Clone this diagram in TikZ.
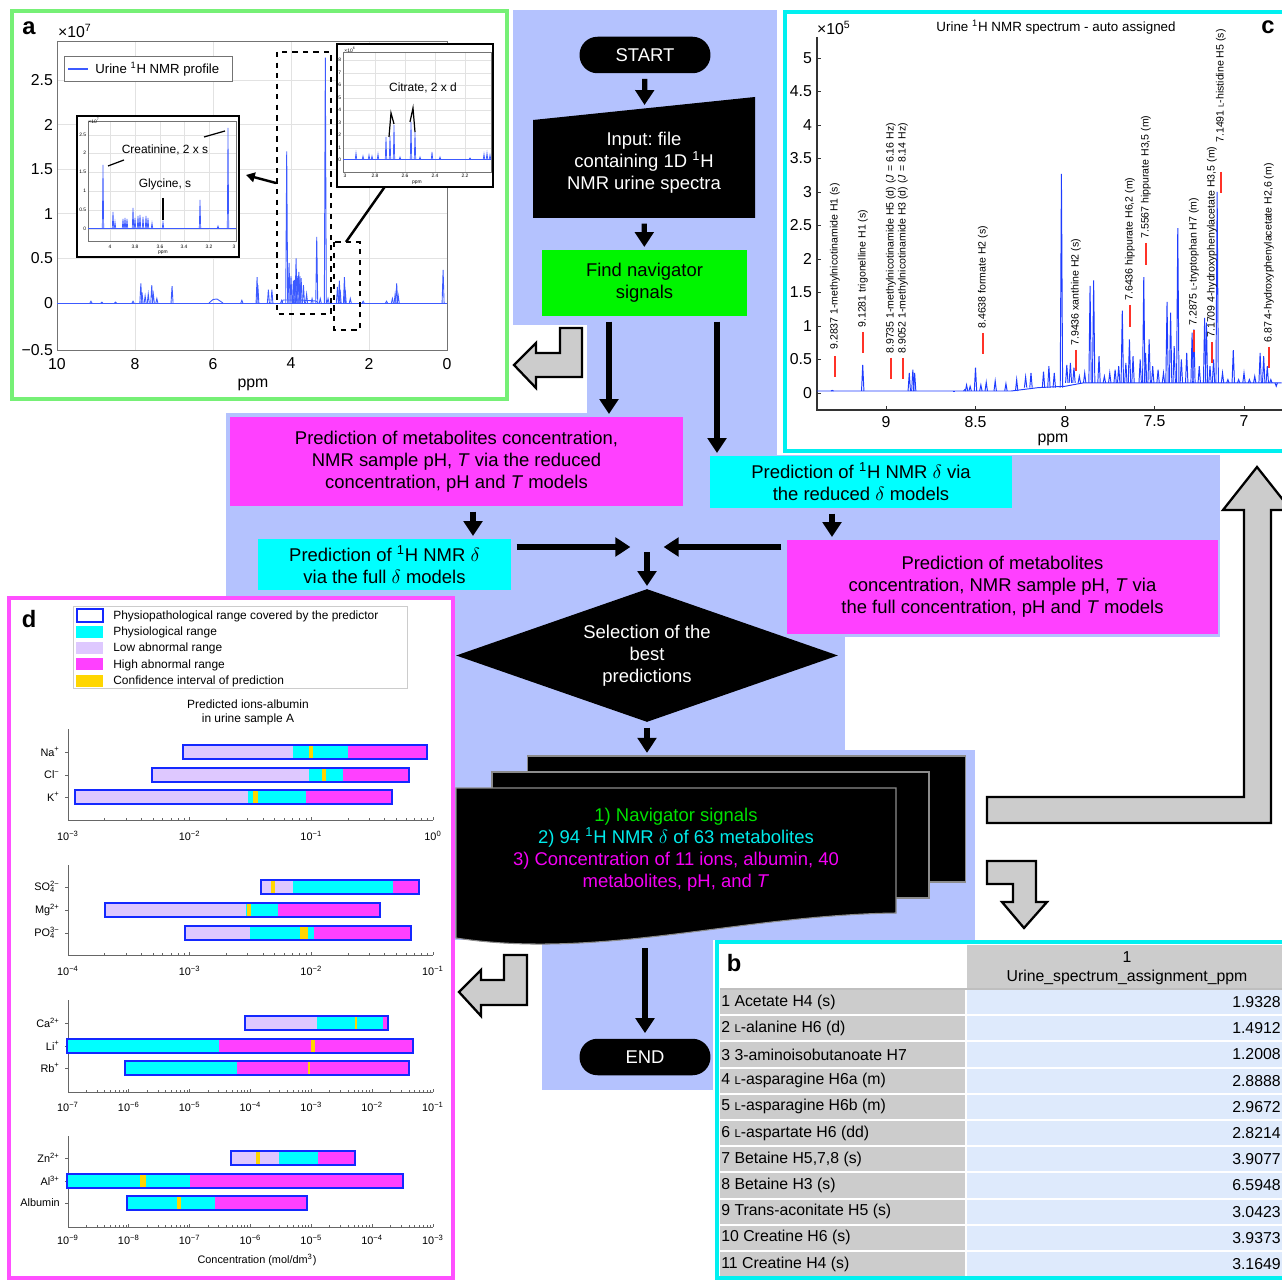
\documentclass[tikz,border=0pt]{standalone}
\usepackage{fontspec}
\setmainfont{Liberation Sans}
\usetikzlibrary{arrows.meta,shapes.geometric}
\frenchspacing

\definecolor{lavender}{RGB}{180,194,254}
\definecolor{boxmag}{RGB}{255,64,255}
\definecolor{boxcyan}{RGB}{0,255,255}
\definecolor{boxgreen}{RGB}{0,245,0}
\definecolor{framegreen}{RGB}{118,240,118}
\definecolor{framecyan}{RGB}{0,240,240}
\definecolor{framemag}{RGB}{255,80,255}
\definecolor{arrowgray}{RGB}{204,204,204}
\definecolor{specblue}{RGB}{60,90,255}
\definecolor{speccblue}{RGB}{30,60,255}
\definecolor{markred}{RGB}{255,50,40}
\definecolor{gridgray}{RGB}{226,226,226}
\definecolor{lowab}{RGB}{222,200,255}
\definecolor{confy}{RGB}{255,214,0}
\definecolor{rangeblue}{RGB}{20,40,255}
\definecolor{cellgray}{RGB}{204,204,204}
\definecolor{cellblue}{RGB}{222,234,252}
\definecolor{txtgreen}{RGB}{0,225,0}
\definecolor{txtcyan}{RGB}{0,235,235}
\definecolor{txtmag}{RGB}{245,0,245}

\newcommand{\scL}{\scalebox{0.72}{L}}
\newcommand{\dec}[1]{10\textsuperscript{#1}}
\newcommand{\rangeseg}[4]{\fill[#1] (#3,#2) rectangle (#4,{#2+14});}
\newcommand{\rangeframe}[3]{\draw[rangebox] (#2,#1) rectangle (#3,{#1+14});}

\begin{document}
\begin{tikzpicture}[x=0.02cm, y=-0.02cm,
  flowtext/.style={font=\fontsize{10.5}{12.5}\selectfont, align=center, inner sep=0pt},
  terminal/.style={flowtext, fill=black, text=white, rounded corners=0.36cm,
    minimum width=2.62cm, minimum height=0.73cm},
  flowarrow/.style={line width=3pt, -{Triangle[length=8.5pt,width=10.5pt]},
    shorten <=3pt, shorten >=1.5pt},
  blockarrow/.style={fill=arrowgray, draw=black, line width=1.3pt, line join=miter},
  panellabel/.style={font=\bfseries\fontsize{13.5}{14}\selectfont, inner sep=0pt},
  gridline/.style={draw=gridgray, line width=0.4pt},
  axisline/.style={draw=black!55, line width=0.5pt},
  ticka/.style={font=\fontsize{9}{10}\selectfont, inner sep=1pt},
  tinyt/.style={font=\fontsize{2.8}{3}\selectfont, inner sep=0.3pt},
  peaklabel/.style={font=\fontsize{6}{7}\selectfont, rotate=90, anchor=west, inner sep=0pt},
  tickd/.style={font=\fontsize{6.2}{7}\selectfont, inner sep=0.5pt},
  legendd/.style={font=\fontsize{6.8}{8}\selectfont, anchor=west, inner sep=0pt},
  rangebox/.style={draw=rangeblue, line width=1.1pt},
  tabletext/.style={font=\fontsize{9}{11}\selectfont, inner sep=0pt}]

\useasboundingbox (0,0) rectangle (1282,1280);

% lavender background of the flow chart
\fill[lavender] (513,10) rectangle (777,325);
\fill[lavender] (587,325) rectangle (777,413);
\fill[lavender] (226,413) rectangle (777,455);
\fill[lavender] (226,455) rectangle (1220,597);
\fill[lavender] (455,597) rectangle (1220,637);
\fill[lavender] (455,637) rectangle (845,750);
\fill[lavender] (451,750) rectangle (975,940);
\fill[lavender] (542,940) rectangle (713,1090);

% ================= panel a =================
\draw[framegreen, line width=2.2pt] (12,11) rectangle (507,399);
\node[panellabel] at (29,28) {a};
\foreach \p in {2,4,6,8}
  \draw[gridline] ({447-39*\p},41) -- ({447-39*\p},350);
\foreach \h in {0,0.5,1,1.5,2,2.5}
  \draw[gridline] (57,{303-89.2*\h}) -- (447,{303-89.2*\h});
\draw[axisline] (57,41) rectangle (447,350);
\foreach \h/\t in {-0.527/−0.5,0/0,0.5/0.5,1/1,1.5/1.5,2/2,2.5/2.5}
  \node[ticka, anchor=east] at (55,{303-89.2*\h}) {\t};
\foreach \p in {10,8,6,4,2,0}
  \node[ticka, anchor=north] at ({447-39*\p},356) {\p};
\node[ticka] at (253,385) {ppm};
\node[ticka, anchor=west] at (56,31) {×10\textsuperscript{7}};

% legend
\draw[black!55, fill=white] (64,56) rectangle (232,81);
\draw[specblue, line width=0.6pt] (68,69) -- (88,69);
\node[font=\fontsize{7.5}{8}\selectfont, anchor=west, inner sep=0pt] at (95,69) {Urine \textsuperscript{1}H NMR profile};

% spectrum
\draw[specblue, line width=0.5pt] (57,303) -- (447,303);
\draw[specblue, line width=0.5pt] (282,303) -- (283,300) -- (300,300) -- (316,301) -- (318,303);
\draw[specblue, line width=0.5pt] (209,303) -- (213,299.5) -- (217,299) -- (223,303);
\foreach \p/\h in {9.13/0.02,8.85/0.01,8.5/0.01,8.05/0.02,7.85/0.22,7.82/0.12,7.74/0.08,
    7.66/0.1,7.57/0.2,7.53/0.1,7.44/0.05,7.05/0.19,5.26/0.03,4.87/0.29,4.85/0.2,
    4.58/0.15,4.49/0.15,4.24/0.03,4.11/1.7,4.05/0.45,4.0/0.3,3.94/0.25,3.91/0.26,
    3.87/0.5,3.84/0.3,3.8/0.35,3.77/0.3,3.74/0.28,3.68/0.2,3.6/0.1,3.46/0.05,
    3.34/0.74,3.25/0.05,3.12/2.75,3.05/0.05,2.81/0.18,2.76/0.25,2.74/0.15,
    2.63/0.29,2.61/0.15,2.48/0.05,2.15/0.02,1.55/0.02,1.4/0.05,1.33/0.1,
    1.29/0.22,1.25/0.08,0.1/0.37}
  \draw[specblue, line width=0.5pt] ({446-39*\p},303) -- ({447-39*\p},{303-89.2*\h}) -- ({448-39*\p},303);

% zoomed regions
\draw[dashed, line width=0.9pt] (277,52) rectangle (331,314);
\draw[dashed, line width=0.9pt] (334,242) rectangle (360,330);
\draw[line width=1.4pt, -{Triangle[length=5pt,width=5.5pt]}] (276,183) -- (246,175);
\draw[line width=1.4pt, -{Triangle[length=5pt,width=5.5pt]}] (346,242) -- (398,168);

% inset: creatinine and glycine
\draw[line width=1pt, fill=white] (77,116) rectangle (239,257);
\foreach \y in {135,153,172,191,210,229}
  \draw[gridline, line width=0.2pt] (88,\y) -- (236,\y);
\foreach \x in {110,135,160,184,209}
  \draw[gridline, line width=0.2pt] (\x,121) -- (\x,241);
\draw[axisline, line width=0.3pt] (88,121) rectangle (236,241);
\foreach \y/\t in {135/2.5,153/2,172/1.5,191/1,210/0.5,229/0}
  \node[tinyt, anchor=east] at (87,\y) {\t};
\foreach \x/\t in {110/4,135/3.8,160/3.6,184/3.4,209/3.2,234/3}
  \node[tinyt] at (\x,247) {\t};
\node[tinyt] at (163,253) {ppm};
\node[tinyt] at (94,121) {×10\textsuperscript{7}};
\draw[specblue, line width=0.4pt] (88,228) -- (236,228);
\foreach \x/\y in {103/165,113/212,115/222,123/219,125/218,127/219,133/208,135/218,
    138/216,140/215,143/217,146/216,148/218,152/223,163/222,200/200,218/226,228/128}
  \draw[specblue, line width=0.4pt] ({\x-0.7},228) -- (\x,\y) -- ({\x+0.7},228);
\node[font=\fontsize{6.8}{8}\selectfont, inner sep=0pt] at (165,150) {Creatinine, 2 x s};
\node[font=\fontsize{6.8}{8}\selectfont, inner sep=0pt] at (165,184) {Glycine, s};
\draw[line width=0.7pt] (108,166) -- (124,160);
\draw[line width=0.7pt] (204,137) -- (225,131);
\draw[line width=0.7pt] (163,198) -- (163,220);

% inset: citrate
\draw[line width=1pt, fill=white] (337,44) rectangle (493,187);
\foreach \y in {60,73,85,98,110,123,135,148}
  \draw[gridline, line width=0.2pt] (343,\y) -- (491,\y);
\foreach \x in {375,405,435,465}
  \draw[gridline, line width=0.2pt] (\x,52) -- (\x,172);
\draw[axisline, line width=0.3pt] (343,52) rectangle (491,172);
\foreach \y/\t in {60/8,73/7,85/6,98/5,110/4,123/3,135/2,148/1,160/0}
  \node[tinyt, anchor=east] at (342,\y) {\t};
\foreach \x/\t in {345/3,375/2.8,405/2.6,435/2.4,465/2.2}
  \node[tinyt] at (\x,176) {\t};
\node[tinyt] at (417,183) {ppm};
\node[tinyt] at (350,50) {×10\textsuperscript{6}};
\draw[specblue, line width=0.4pt] (343,159) -- (491,159);
\foreach \x/\y in {356/153,363/156,369/155,372/156,378/154,386/137,390/136,394/125,
    400/157,411/122,415/132,420/157,432/152,440/157,470/158,484/154,487/153,490/155}
  \draw[specblue, line width=0.4pt] ({\x-0.7},159) -- (\x,\y) -- ({\x+0.7},159);
\node[font=\fontsize{6.8}{8}\selectfont, inner sep=0pt] at (423,88) {Citrate, 2 x d};
\draw[line width=0.7pt] (389,137) -- (391,113) -- (394,124);
\draw[line width=0.7pt] (410,122) -- (413,108) -- (415,132);

% ================= panel c =================
\draw[framecyan, line width=2.2pt] (785,12) rectangle (1295,451);
\node[panellabel] at (1268,27) {c};
\node[font=\fontsize{7.6}{8}\selectfont, inner sep=0pt] at (1056,27) {Urine \textsuperscript{1}H NMR spectrum - auto assigned};
\node[ticka, anchor=west] at (815,28) {×10\textsuperscript{5}};
\draw[black!80, line width=0.6pt] (817,37) -- (817,410) -- (1290,410);
\foreach \h in {0,0.5,1,1.5,2,2.5,3,3.5,4,4.5,5} {
  \draw[black!80, line width=0.5pt] (817,{393-67*\h}) -- ++(4,0);
  \node[ticka, anchor=east] at (814,{393-67*\h}) {\h};
}
\foreach \p in {9,8.5,8,7.5,7} {
  \draw[black!80, line width=0.5pt] ({1065-179*(\p-8)},410) -- ++(0,-4);
  \node[ticka, anchor=north] at ({1065-179*(\p-8)},414) {\p};
}
\node[ticka] at (1053,440) {ppm};

% spectrum
\draw[speccblue, line width=0.55pt] (817,391)
  \foreach \p/\h in {9.3/0.03,8.3/0.03,8.15/0.08,8.0/0.1,7.9/0.15,7.0/0.15,6.79/0.15}
  { -- ({1065-179*(\p-8)},{393-67*\h}) };
\foreach \p/\h in {9.30/0.04,9.13/0.42,8.87/0.3,8.85/0.35,8.84/0.3,8.62/0.03,8.56/0.05,
    8.55/0.12,8.53/0.1,8.50/0.38,8.47/0.12,8.44/0.16,8.39/0.18,8.33/0.14,
    8.27/0.2,8.22/0.24,8.19/0.3,8.12/0.32,8.09/0.4,8.06/0.3,
    8.02/3.27,7.99/0.42,7.97/0.45,7.95/0.38,7.92/0.25,7.89/0.3,7.86/1.6,7.84/1.68,
    7.81/0.55,7.78/0.25,7.75/0.3,7.72/0.35,7.70/0.4,7.68/1.23,7.66/0.45,7.64/0.8,
    7.62/0.55,7.58/0.5,7.56/1.73,7.55/0.6,7.53/0.8,7.51/0.4,7.48/0.35,7.45/0.3,
    7.43/1.36,7.41/1.2,7.39/0.7,7.37/2.46,7.35/0.5,7.32/0.6,7.29/0.9,7.28/0.95,
    7.25/0.4,7.22/1.12,7.21/1.05,7.19/0.4,7.17/0.5,7.15/3.0,7.12/0.3,7.09/0.2,
    7.06/0.64,7.03/0.2,7.0/0.3,6.97/0.2,6.94/0.25,6.91/0.6,6.89/0.55,6.87/0.4,
    6.85/0.2,6.82/0.1} {
  \pgfmathsetmacro\b{(\p>8.25) ? 0.03 : ((\p>8.0) ? 0.08 : 0.15)}
  \draw[speccblue, line width=0.55pt] ({1063.8-179*(\p-8)},{393-67*\b})
    -- ({1065-179*(\p-8)},{393-67*\h}) -- ({1066.2-179*(\p-8)},{393-67*\b});
}

% assigned peaks
\foreach \x/\ya/\yb/\yl/\t in {
    835/356/377/350/{9.2837 1-methylnicotinamide H1 (s)},
    863/332/353/328/{9.1281 trigonelline H1 (s)},
    891/358/379/354/{8.9735 1-methylnicotinamide H5 (d) (\textit{J} = 6.16 Hz)},
    903/358/379/354/{8.9052 1-methylnicotinamide H3 (d) (\textit{J} = 8.14 Hz)},
    983/333/354/329/{8.4638 formate H2 (s)},
    1076/350/371/346/{7.9436 xanthine H2 (s)},
    1130/305/327/301/{7.6436 hippurate H6,2 (m)},
    1146/243/265/239/{7.5567 hippurate H3,5 (m)},
    1194/330/352/326/{7.2875 \scL-tryptophan H7 (m)},
    1212/342/363/338/{7.1709 4-hydroxyphenylacetate H3,5 (m)},
    1221/172/193/143/{7.1491 \scL-histidine H5 (s)},
    1269/347/368/343/{6.87 4-hydroxyphenylacetate H2,6 (m)}} {
  \draw[markred, line width=1.1pt] (\x,\ya) -- (\x,\yb);
  \node[peaklabel] at (\x,\yl) {\t};
}

% ================= panel d =================
\draw[framemag, line width=2.2pt] (9,598) rectangle (453,1278);
\node[panellabel] at (29,619) {d};
\draw[black!20, fill=white] (73,606) rectangle (407,688);
\draw[rangebox] (77,609) rectangle (103,622);
\fill[boxcyan] (76,626) rectangle (103,638);
\fill[lowab] (76,642) rectangle (103,654);
\fill[boxmag] (76,658) rectangle (103,670);
\fill[confy] (76,675) rectangle (103,687);
\node[legendd] at (113,616) {Physiopathological range covered by the predictor};
\node[legendd] at (113,632) {Physiological range};
\node[legendd] at (113,648) {Low abnormal range};
\node[legendd] at (113,665) {High abnormal range};
\node[legendd] at (113,681) {Confidence interval of prediction};
\node[font=\fontsize{6.8}{8}\selectfont, align=center, inner sep=0pt] at (248,712)
  {Predicted ions-albumin\\in urine sample A};

% axes with log ticks
\foreach \top/\base/\n in {729/820/3,865/955/3,1000/1092/6,1136/1227/6} {
  \draw[black!60, line width=0.5pt] (68,\top) -- (68,\base) -- (433,\base);
  \pgfmathsetmacro\dw{365/\n}
  \foreach \k in {0,...,\n}
    \draw[black!60, line width=0.5pt] ({68+\dw*\k},\base) -- ++(0,-3.5);
  \foreach \k in {1,...,\n}
    \foreach \m in {2,...,9}
      \draw[black!60, line width=0.3pt] ({68+\dw*(\k-1+log10(\m))},\base) -- ++(0,-2);
}
\foreach \x/\e in {68/−3,189.7/−2,311.3/−1,433/0}
  \node[tickd] at (\x,836) {\dec{\e}};
\foreach \x/\e in {68/−4,189.7/−3,311.3/−2,433/−1}
  \node[tickd] at (\x,971) {\dec{\e}};
\foreach \x/\e in {68/−7,128.8/−6,189.7/−5,250.5/−4,311.3/−3,372.2/−2,433/−1}
  \node[tickd] at (\x,1107) {\dec{\e}};
\foreach \x/\e in {68/−9,128.8/−8,189.7/−7,250.5/−6,311.3/−5,372.2/−4,433/−3}
  \node[tickd] at (\x,1240) {\dec{\e}};
\node[tickd] at (257,1260) {Concentration (mol/dm\textsuperscript{3})};

% ion labels
\foreach \y/\t in {752/Na\textsuperscript{+},775/Cl\textsuperscript{−},797/K\textsuperscript{+},
    887/{SO\rlap{\textsubscript{4}}\textsuperscript{2−}},910/Mg\textsuperscript{2+},
    933/{PO\rlap{\textsubscript{4}}\textsuperscript{3−}},1023/Ca\textsuperscript{2+},
    1046/Li\textsuperscript{+},1068/Rb\textsuperscript{+},1158/Zn\textsuperscript{2+},
    1181/Al\textsuperscript{3+},1203/Albumin} {
  \draw[black!60, line width=0.4pt] (65,\y) -- (68,\y);
  \node[tickd, anchor=east] at (61,\y) {\t};
}

% ranges
\rangeseg{lowab}{745}{183}{293}\rangeseg{boxcyan}{745}{293}{348}\rangeseg{boxmag}{745}{348}{427}
\rangeseg{confy}{745}{309}{313}\rangeframe{745}{183}{427}
\rangeseg{lowab}{768}{152}{309}\rangeseg{boxcyan}{768}{309}{343}\rangeseg{boxmag}{768}{343}{409}
\rangeseg{confy}{768}{322}{326}\rangeframe{768}{152}{409}
\rangeseg{lowab}{790}{75}{248}\rangeseg{boxcyan}{790}{248}{306}\rangeseg{boxmag}{790}{306}{392}
\rangeseg{confy}{790}{253}{258}\rangeframe{790}{75}{392}
\rangeseg{lowab}{880}{261}{293}\rangeseg{boxcyan}{880}{293}{393}\rangeseg{boxmag}{880}{393}{419}
\rangeseg{confy}{880}{271}{275}\rangeframe{880}{261}{419}
\rangeseg{lowab}{903}{105}{246}\rangeseg{boxcyan}{903}{246}{278}\rangeseg{boxmag}{903}{278}{380}
\rangeseg{confy}{903}{247}{251}\rangeframe{903}{105}{380}
\rangeseg{lowab}{926}{185}{250}\rangeseg{boxcyan}{926}{250}{314}\rangeseg{boxmag}{926}{314}{411}
\rangeseg{confy}{926}{300}{308}\rangeframe{926}{185}{411}
\rangeseg{lowab}{1016}{245}{317}\rangeseg{boxcyan}{1016}{317}{383}\rangeseg{boxmag}{1016}{383}{388}
\rangeseg{confy}{1016}{355}{357}\rangeframe{1016}{245}{388}
\rangeseg{boxcyan}{1039}{67}{219}\rangeseg{boxmag}{1039}{219}{413}
\rangeseg{confy}{1039}{311}{315}\rangeframe{1039}{67}{413}
\rangeseg{boxcyan}{1061}{125}{237}\rangeseg{boxmag}{1061}{237}{409}
\rangeseg{confy}{1061}{308}{310}\rangeframe{1061}{125}{409}
\rangeseg{lowab}{1151}{231}{279}\rangeseg{boxcyan}{1151}{279}{318}\rangeseg{boxmag}{1151}{318}{355}
\rangeseg{confy}{1151}{256}{260}\rangeframe{1151}{231}{355}
\rangeseg{boxcyan}{1174}{67}{190}\rangeseg{boxmag}{1174}{190}{403}
\rangeseg{confy}{1174}{140}{146}\rangeframe{1174}{67}{403}
\rangeseg{boxcyan}{1196}{127}{215}\rangeseg{boxmag}{1196}{215}{307}
\rangeseg{confy}{1196}{177}{181}\rangeframe{1196}{127}{307}

% ================= panel b =================
\fill[white] (720,945) rectangle (965,988);
\fill[cellgray] (967,945) rectangle (1282,988);
\draw[black!25, line width=0.6pt] (720,989) -- (1282,989);
\node[panellabel] at (734,963) {b};
\node[tabletext] at (1127,957) {1};
\node[tabletext] at (1127,977) {Urine\_spectrum\_assignment\_ppm};
\foreach \i/\lab/\val in {1/{1 Acetate H4 (s)}/1.9328, 2/{2 \scL-alanine H6 (d)}/1.4912,
    3/{3 3-aminoisobutanoate H7}/1.2008, 4/{4 \scL-asparagine H6a (m)}/2.8888,
    5/{5 \scL-asparagine H6b (m)}/2.9672, 6/{6 \scL-aspartate H6 (dd)}/2.8214,
    7/{7 Betaine H5,7,8 (s)}/3.9077, 8/{8 Betaine H3 (s)}/6.5948,
    9/{9 Trans-aconitate H5 (s)}/3.0423, 10/{10 Creatine H6 (s)}/3.9373,
    11/{11 Creatine H4 (s)}/3.1649} {
  \fill[cellgray] (720,{990+26.2*(\i-1)}) rectangle (965,{988+26.2*\i});
  \fill[cellblue] (967,{990+26.2*(\i-1)}) rectangle (1282,{988+26.2*\i});
  \node[tabletext, anchor=west] at (721,{989+26.2*(\i-0.5)}) {\lab};
  \node[tabletext, anchor=east] at (1281,{989+26.2*(\i-0.5)}) {\val};
}
\draw[framecyan, line width=2.2pt] (717,942) rectangle (1295,1278);

% ================= flow chart =================
\node[terminal] (start) at (645,55) {START};
\fill[black] (533,218) -- (755,218) -- (755,97) -- (533,120) -- cycle;
\node[flowtext, text=white, minimum width=4.44cm, minimum height=2.2cm] (input) at (644,163)
  {Input: file\\containing 1D \textsuperscript{1}H\\NMR urine spectra};
\node[flowtext, fill=boxgreen, minimum width=4.1cm, minimum height=1.32cm] (find) at (644.5,283)
  {Find navigator\\signals};
\node[flowtext, fill=boxmag, minimum width=9.06cm, minimum height=1.78cm] (mag1) at (456.5,461.5)
  {Prediction of metabolites concentration,\\NMR sample pH, \textit{T} via the reduced\\concentration, pH and \textit{T} models};
\node[flowtext, fill=boxcyan, minimum width=6.04cm, minimum height=1.04cm] (cyan1) at (861,482)
  {Prediction of \textsuperscript{1}H NMR $\delta$ via\\the reduced $\delta$ models};
\node[flowtext, fill=boxcyan, minimum width=5.06cm, minimum height=1.02cm] (cyan2) at (384.5,564.5)
  {Prediction of \textsuperscript{1}H NMR $\delta$\\via the full $\delta$ models};
\node[flowtext, fill=boxmag, minimum width=8.62cm, minimum height=1.88cm] (mag2) at (1002.5,587)
  {Prediction of metabolites\\concentration, NMR sample pH, \textit{T} via\\the full concentration, pH and \textit{T} models};
\node[flowtext, shape=diamond, aspect=2.87, fill=black, text=white, minimum width=7.64cm, minimum height=2.66cm]
  (select) at (647,655.5) {Selection of the\\best\\predictions};

% stack of output documents
\node[fill=black, draw=black!45, line width=0.6pt, minimum width=8.78cm, minimum height=2.52cm] (docback) at (746.5,819) {};
\filldraw[fill=black, draw=black!45, line width=0.6pt] (492,772) rectangle (929,898);
\filldraw[fill=black, draw=black!45, line width=0.6pt] (456,788) -- (896,788) -- (896,913)
  .. controls (740,915) and (600,960) .. (456,938) -- cycle;
\node[flowtext, minimum height=3.6cm] (docs) at (676,850)
  {\textcolor{txtgreen}{1) Navigator signals}\\
   \textcolor{txtcyan}{2) 94 \textsuperscript{1}H NMR $\delta$ of 63 metabolites}\\
   \textcolor{txtmag}{3) Concentration of 11 ions, albumin, 40}\\
   \textcolor{txtmag}{metabolites, pH, and \textit{T}}};
\node[terminal] (end) at (645,1057) {END};

% connectors
\coordinate (colA) at (609,0);
\coordinate (colB) at (717,0);
\coordinate (colC) at (473,0);
\coordinate (colD) at (832,0);
\coordinate (join) at (647,547);
\draw[flowarrow] (start) -- (input);
\draw[flowarrow] (input) -- (find);
\draw[flowarrow] (find.south -| colA) -- (mag1.north -| colA);
\draw[flowarrow] (find.south -| colB) -- (cyan1.north -| colB);
\draw[flowarrow] (mag1.south -| colC) -- (cyan2.north -| colC);
\draw[flowarrow] (cyan1.south -| colD) -- (mag2.north -| colD);
\draw[flowarrow] (cyan2.east |- join) -- ([xshift=-0.28cm]join);
\draw[flowarrow] (mag2.west |- join) -- ([xshift=0.28cm]join);
\draw[flowarrow] (join) -- (select.north);
\draw[flowarrow] (select.south) -- (select.south |- docback.north);
\draw[flowarrow, shorten <=4.5pt, shorten >=3pt] (end.north |- docs.south) -- (end.north);

% hollow arrows pointing to the panels
\filldraw[blockarrow] (560,328) -- (582,328) -- (582,377) -- (536,377) -- (536,388) -- (514,365)
  -- (536,343) -- (536,353) -- (560,353) -- cycle;
\filldraw[blockarrow] (504,955) -- (527,955) -- (527,1005) -- (481,1005) -- (481,1016) -- (459,992)
  -- (481,970) -- (481,980) -- (504,980) -- cycle;
\filldraw[blockarrow] (987,797) -- (1244,797) -- (1244,510) -- (1223,510) -- (1257,467) -- (1291,510)
  -- (1271,510) -- (1271,823) -- (987,823) -- cycle;
\filldraw[blockarrow] (987,861) -- (1036,861) -- (1036,902) -- (1047,902) -- (1024,928) -- (1002,902)
  -- (1013,902) -- (1013,884) -- (987,884) -- cycle;

\end{tikzpicture}
\end{document}
